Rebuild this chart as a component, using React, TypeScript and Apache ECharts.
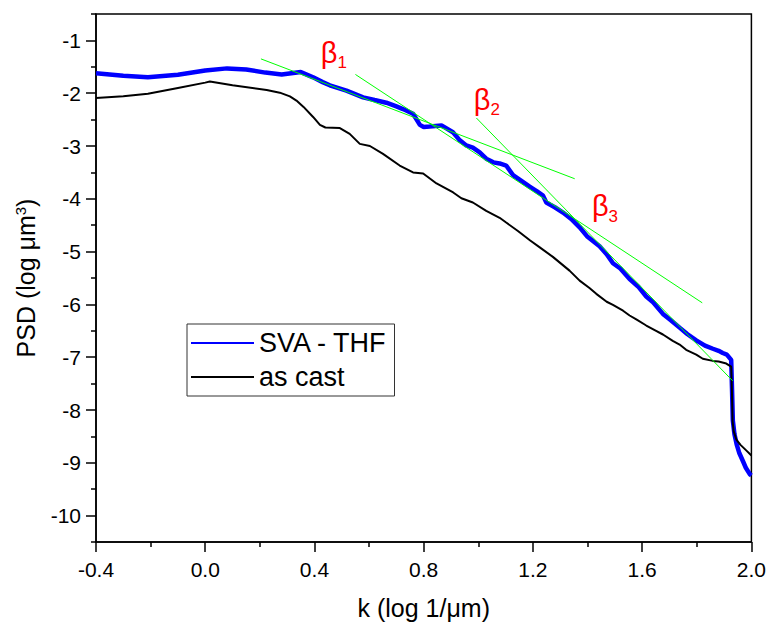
import React, { useEffect, useRef } from "react";
import * as echarts from "echarts";

// SVA - THF curve (k in log 1/µm, PSD in log µm³)
const kSva = [-0.40, -0.30, -0.21, -0.10, 0.00, 0.08, 0.15, 0.22, 0.28, 0.35, 0.395, 0.43, 0.456, 0.517, 0.578, 0.62, 0.663, 0.70, 0.724, 0.761, 0.786, 0.80, 0.822, 0.865, 0.907, 0.93, 0.956, 0.98, 1.005, 1.029, 1.055, 1.078, 1.102, 1.127, 1.155, 1.188, 1.215, 1.237, 1.249, 1.28, 1.31, 1.34, 1.371, 1.40, 1.444, 1.47, 1.493, 1.52, 1.554, 1.585, 1.615, 1.64, 1.676, 1.705, 1.737, 1.765, 1.798, 1.83, 1.859, 1.88, 1.895, 1.91, 1.926, 1.929, 1.932, 1.938, 1.946, 1.956, 1.97, 1.98, 1.995, 2.0];
const psdSva = [-1.62, -1.67, -1.70, -1.65, -1.57, -1.53, -1.55, -1.61, -1.645, -1.60, -1.70, -1.79, -1.85, -1.95, -2.08, -2.13, -2.18, -2.25, -2.30, -2.39, -2.60, -2.64, -2.63, -2.61, -2.74, -2.88, -2.99, -3.03, -3.12, -3.24, -3.31, -3.33, -3.37, -3.55, -3.65, -3.77, -3.86, -3.94, -4.07, -4.16, -4.26, -4.38, -4.54, -4.72, -4.90, -5.05, -5.22, -5.32, -5.52, -5.66, -5.85, -5.96, -6.18, -6.30, -6.44, -6.56, -6.68, -6.78, -6.84, -6.88, -6.92, -6.95, -7.05, -7.6, -8.2, -8.46, -8.65, -8.82, -8.98, -9.10, -9.22, -9.24];

// as cast curve
const kCast = [-0.40, -0.30, -0.21, -0.10, 0.00, 0.017, 0.10, 0.225, 0.273, 0.31, 0.334, 0.36, 0.395, 0.42, 0.44, 0.493, 0.529, 0.566, 0.603, 0.651, 0.712, 0.761, 0.798, 0.847, 0.908, 0.938, 0.98, 1.029, 1.078, 1.102, 1.145, 1.19, 1.225, 1.273, 1.334, 1.371, 1.407, 1.432, 1.47, 1.493, 1.53, 1.554, 1.58, 1.615, 1.651, 1.676, 1.712, 1.737, 1.761, 1.798, 1.822, 1.859, 1.88, 1.908, 1.926, 1.929, 1.931, 1.935, 1.945, 1.96, 1.98, 2.0];
const psdCast = [-2.09, -2.06, -2.01, -1.90, -1.80, -1.78, -1.85, -1.94, -1.99, -2.06, -2.14, -2.26, -2.45, -2.60, -2.65, -2.66, -2.77, -2.96, -3.00, -3.15, -3.37, -3.50, -3.52, -3.71, -3.88, -3.99, -4.07, -4.23, -4.36, -4.45, -4.61, -4.79, -4.92, -5.10, -5.36, -5.55, -5.69, -5.80, -5.95, -6.01, -6.12, -6.21, -6.29, -6.40, -6.50, -6.57, -6.69, -6.76, -6.86, -6.95, -7.03, -7.07, -7.08, -7.12, -7.18, -7.70, -8.21, -8.40, -8.56, -8.66, -8.76, -8.86];

// fitted slope lines (start/end points)
const fit1K = [0.204, 1.353];
const fit1Psd = [-1.35, -3.62];
const fit2K = [0.55, 1.82];
const fit2Psd = [-1.645, -5.97];
const fit3K = [0.993, 1.932];
const fit3Psd = [-2.47, -7.45];

// beta labels
const betaK = [0.471, 1.031, 1.464];
const betaPsd = [-1.233, -2.12, -4.14];
const betaSubs = ["1", "2", "3"];

// axis ticks
const yMajorTicks = [-10, -9, -8, -7, -6, -5, -4, -3, -2, -1];
const yMinorTicks = [-10.5, -9.5, -8.5, -7.5, -6.5, -5.5, -4.5, -3.5, -2.5, -1.5, -0.5];

const FONT = "'Liberation Sans', Arial, Helvetica, sans-serif";

const zip = (a: number[], b: number[]) => a.map((v, i) => [v, b[i]]);

export default function App() {
  const ref = useRef<HTMLDivElement>(null);
  useEffect(() => {
    document.body.style.margin = "0";
    if (!ref.current) return;
    const chart = echarts.init(ref.current, undefined, { renderer: "svg" });
    const fitStyle = { color: "#00FF00", width: 1 };
    chart.setOption({
      animation: false,
      backgroundColor: "#ffffff",
      textStyle: { fontFamily: FONT },
      grid: {
        left: 96,
        right: 17,
        top: 14,
        bottom: 87,
        show: true,
        borderColor: "#000",
        borderWidth: 1.5,
        backgroundColor: "transparent",
      },
      legend: {
        left: 187,
        top: 324,
        orient: "vertical",
        data: ["SVA - THF", "as cast"],
        itemWidth: 63,
        itemHeight: 6,
        itemGap: 4,
        padding: [4, 7, 4, 3],
        borderColor: "#333",
        borderWidth: 1,
        itemStyle: { opacity: 0 },
        textStyle: { fontSize: 27, lineHeight: 30, color: "#000", fontFamily: FONT },
      },
      xAxis: {
        type: "value",
        min: -0.4,
        max: 2.0,
        interval: 0.4,
        name: "k (log 1/\u03bcm)",
        nameLocation: "middle",
        nameGap: 53,
        nameTextStyle: { fontSize: 25, color: "#000", fontFamily: FONT },
        axisLine: { show: true, onZero: false, lineStyle: { color: "#000", width: 1.5 } },
        axisTick: { show: true, inside: false, length: 10, lineStyle: { color: "#000", width: 1.5 } },
        minorTick: { show: true, splitNumber: 2, length: 5, lineStyle: { color: "#000", width: 1.5 } },
        axisLabel: {
          margin: 17,
          fontSize: 21,
          color: "#000",
          fontFamily: FONT,
          formatter: (v: number) => v.toFixed(1),
        },
        splitLine: { show: false },
      },
      yAxis: [
        {
          type: "value",
          min: -10.5,
          max: -0.5,
          name: "PSD (log \u03bcm{sup|3})",
          nameLocation: "middle",
          nameGap: 50,
          nameRotate: 90,
          nameTextStyle: {
            fontSize: 25,
            color: "#000",
            fontFamily: FONT,
            lineHeight: 28,
            rich: {
              sup: { fontSize: 15, lineHeight: 15, padding: [0, 0, 12, 0], verticalAlign: "bottom", color: "#000", fontFamily: FONT },
            },
          },
          axisLine: { show: true, onZero: false, lineStyle: { color: "#000", width: 1.5 } },
          axisTick: { show: true, inside: false, length: 10, customValues: yMajorTicks, lineStyle: { color: "#000", width: 1.5 } },
          axisLabel: { margin: 15, fontSize: 21, color: "#000", fontFamily: FONT, customValues: yMajorTicks },
          splitLine: { show: false },
        },
        {
          type: "value",
          min: -10.5,
          max: -0.5,
          position: "left",
          offset: 0,
          axisLine: { show: false, onZero: false },
          axisTick: { show: true, inside: false, length: 5, customValues: yMinorTicks, lineStyle: { color: "#000", width: 1.5 } },
          axisLabel: { show: false },
          splitLine: { show: false },
        },
      ],
      series: [
        {
          name: "SVA - THF",
          type: "line",
          data: zip(kSva, psdSva),
          showSymbol: false,
          symbol: "none",
          lineStyle: { color: "#0000FF", width: 4.5 },
          itemStyle: { color: "#0000FF" },
          z: 2,
        },
        {
          name: "as cast",
          type: "line",
          data: zip(kCast, psdCast),
          showSymbol: false,
          symbol: "none",
          lineStyle: { color: "#000000", width: 2 },
          itemStyle: { color: "#000000" },
          z: 3,
        },
        { name: "fit1", type: "line", data: zip(fit1K, fit1Psd), symbol: "none", lineStyle: fitStyle, z: 4, silent: true },
        { name: "fit2", type: "line", data: zip(fit2K, fit2Psd), symbol: "none", lineStyle: fitStyle, z: 4, silent: true },
        { name: "fit3", type: "line", data: zip(fit3K, fit3Psd), symbol: "none", lineStyle: fitStyle, z: 4, silent: true },
        {
          name: "beta",
          type: "scatter",
          data: zip(betaK, betaPsd),
          symbolSize: 2,
          itemStyle: { color: "rgba(0,0,0,0)" },
          silent: true,
          z: 5,
          labelLayout: { hideOverlap: false },
          label: {
            show: true,
            position: "inside",
            opacity: 1,
            formatter: (p: any) => `{b|\u03b2}{s|${betaSubs[p.dataIndex]}}`,
            rich: {
              b: { fontSize: 29, lineHeight: 29, verticalAlign: "top", color: "#FF0000", fontFamily: FONT },
              s: { fontSize: 17, lineHeight: 17, verticalAlign: "top", padding: [16, 0, 0, 0], color: "#FF0000", fontFamily: FONT },
            },
          },
        },
      ],
    });
    return () => chart.dispose();
  }, []);
  return <div ref={ref} style={{ width: 769, height: 629 }} />;
}
